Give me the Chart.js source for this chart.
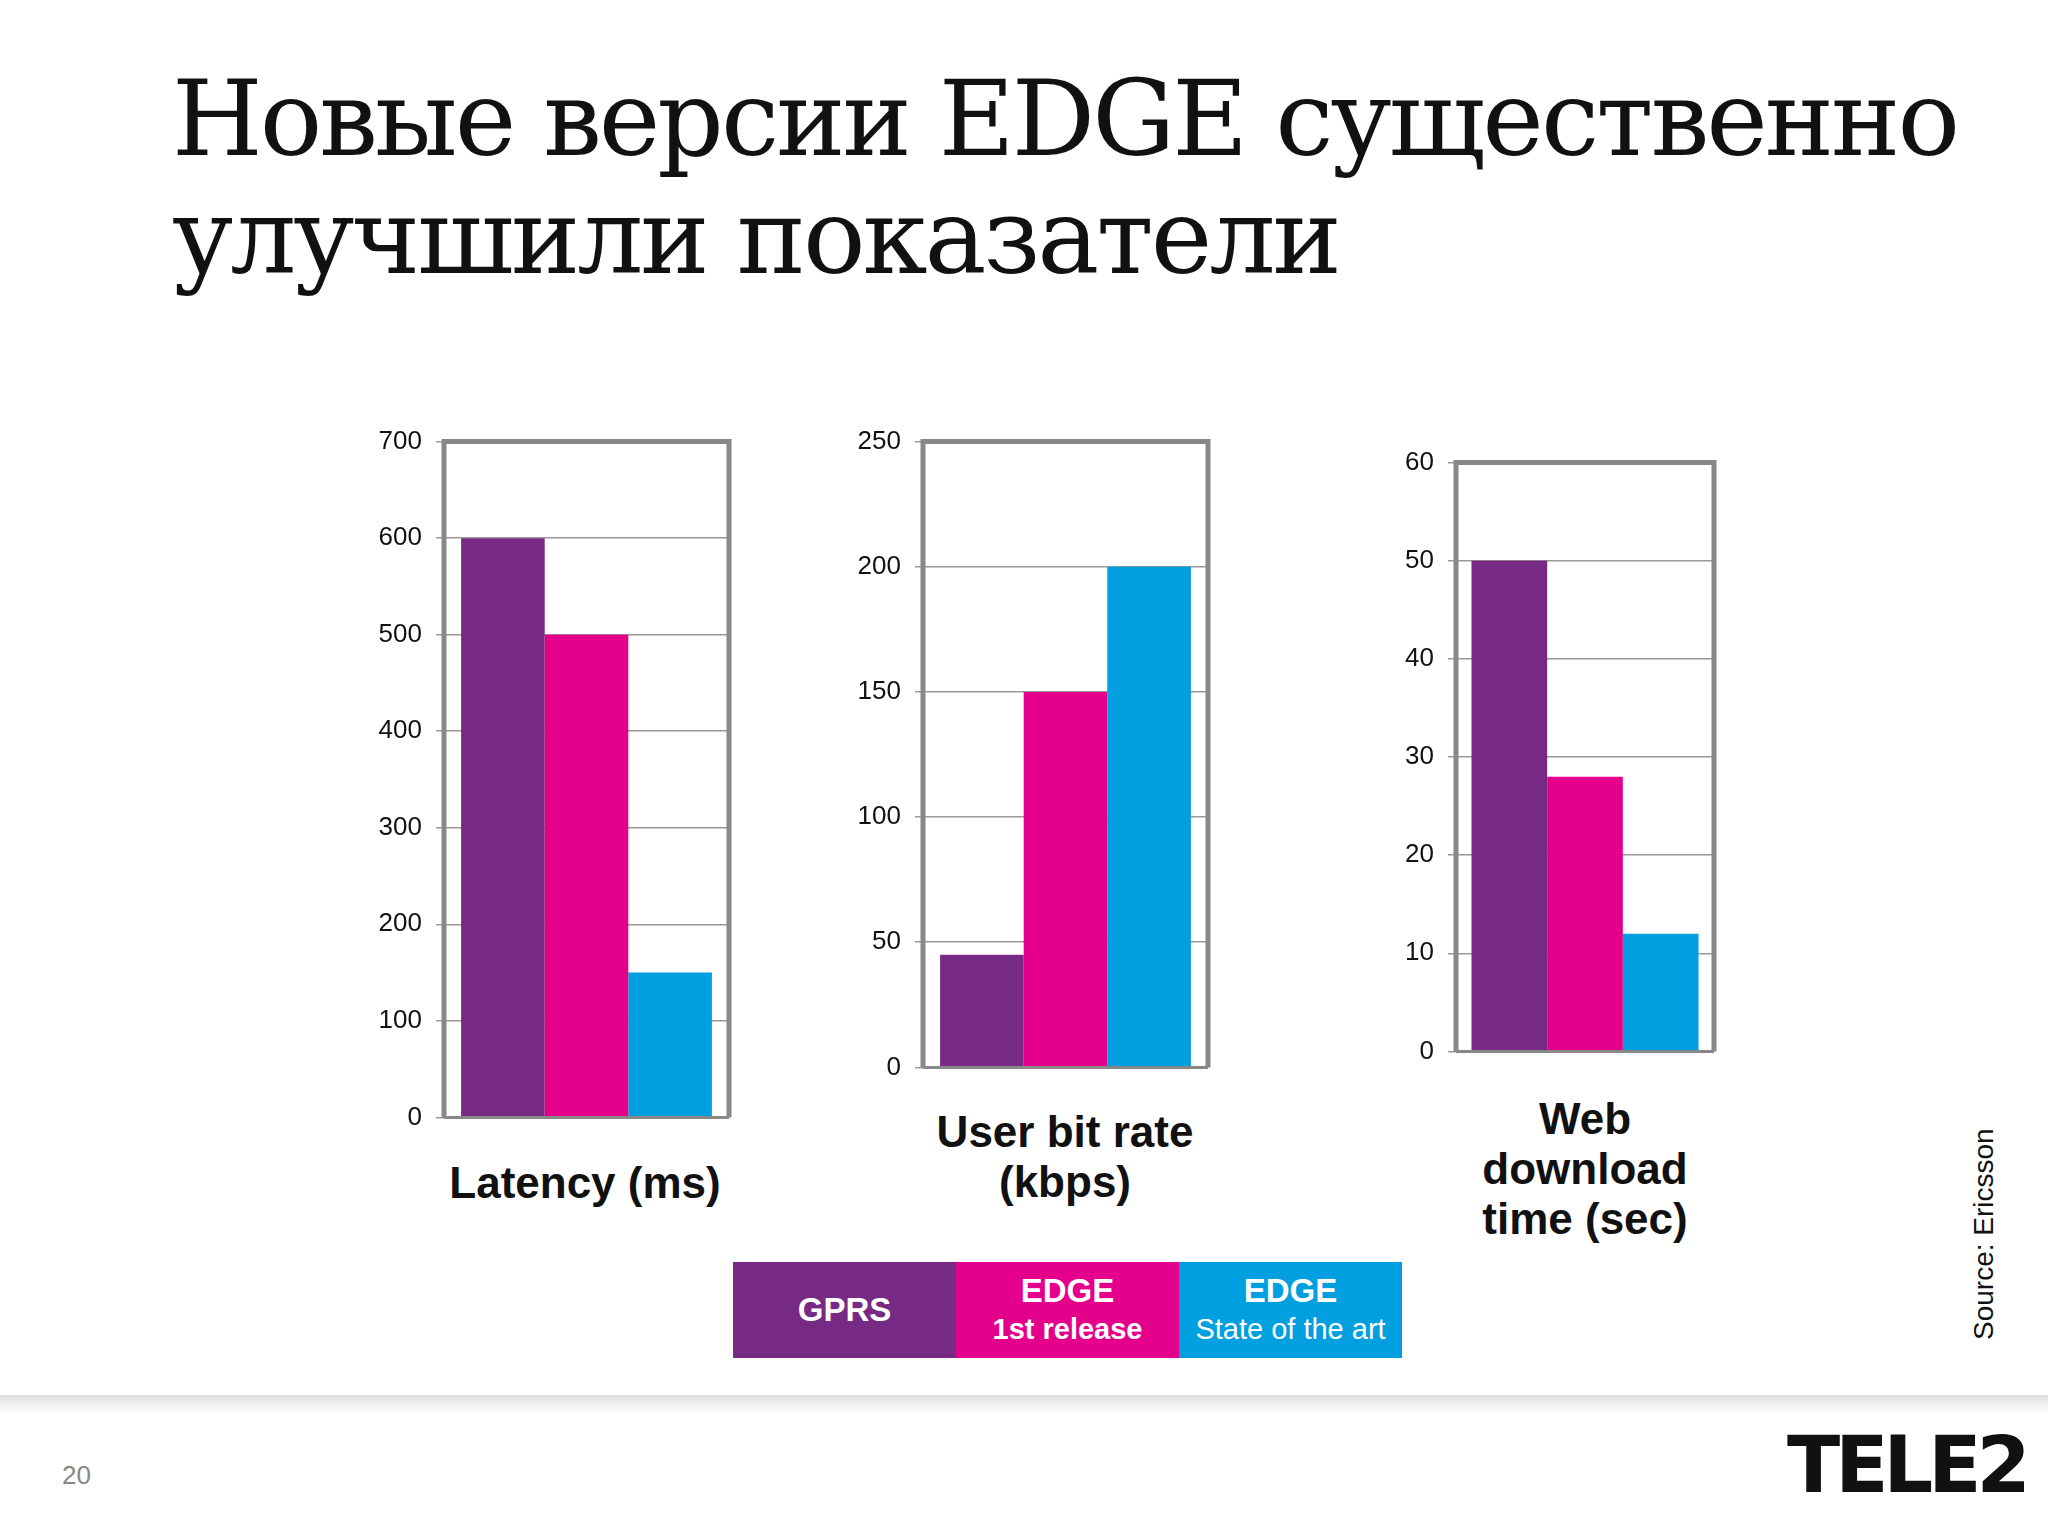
<!DOCTYPE html>
<html><head><meta charset="utf-8">
<script src="https://cdn.jsdelivr.net/npm/chart.js@4"></script>
<style>
body{margin:0;width:2048px;height:1536px;background:#fff;position:relative;overflow:hidden;font-family:"Liberation Sans",Arial,sans-serif}
.t{position:absolute;left:172px;top:60px;font-family:"DejaVu Serif",serif;font-size:104px;line-height:118px;color:#111;letter-spacing:-3px;white-space:nowrap}
.box{position:absolute}
.lab{position:absolute;text-align:center;font-weight:bold;font-size:44px;line-height:50px;color:#111}
.leg{position:absolute;top:1262px;height:96px;width:223px;color:#fff;font-weight:bold;text-align:center;display:flex;flex-direction:column;justify-content:center;font-size:33px;line-height:38px}
</style></head><body>
<div class="t">Новые версии EDGE существенно<br>улучшили показатели</div>
<div class="box" style="left:360px;top:412px;width:375px;height:735px"><canvas id="c1"></canvas></div>
<div class="box" style="left:839px;top:412px;width:375px;height:685px"><canvas id="c2"></canvas></div>
<div class="box" style="left:1372px;top:433px;width:348px;height:648px"><canvas id="c3"></canvas></div>
<div class="lab" style="left:420px;top:1158px;width:330px">Latency (ms)</div>
<div class="lab" style="left:900px;top:1107px;width:330px">User bit rate<br>(kbps)</div>
<div class="lab" style="left:1420px;top:1094px;width:330px">Web<br>download<br>time (sec)</div>
<div class="leg" style="left:733px;background:#772A83">GPRS</div>
<div class="leg" style="left:956px;background:#E5008C">EDGE<br><span style="font-size:29px">1st release</span></div>
<div class="leg" style="left:1179px;background:#009FDF">EDGE<br><span style="font-size:29px;font-weight:normal">State of the art</span></div>
<div style="position:absolute;left:1968px;top:1340px;transform:rotate(-90deg);transform-origin:0 0;font-size:28px;color:#111;white-space:nowrap">Source: Ericsson</div>
<div style="position:absolute;left:0;top:1395px;width:2048px;height:18px;background:linear-gradient(#ddd,#fff)"></div>
<div style="position:absolute;left:62px;top:1460px;font-size:26px;color:#888">20</div>
<div style="position:absolute;left:1787px;top:1420px;font-size:78px;font-weight:900;color:#111;letter-spacing:-5px;font-family:'DejaVu Sans',sans-serif">TELE2</div>
<script>
const seriesNames=["GPRS","EDGE 1st release","EDGE State of the art"];
const colors=["#772A83","#E5008C","#009FDF"];
const latency=[600,500,150];
const bitRate=[45,150,200];
const webTime=[50,28,12];
const frame={id:'frame',afterDraw(c){const a=c.chartArea,x=c.ctx;x.save();x.strokeStyle='#888';x.lineWidth=5;x.beginPath();x.moveTo(a.left,a.bottom);x.lineTo(a.left,a.top);x.lineTo(a.right,a.top);x.lineTo(a.right,a.bottom);x.stroke();x.lineWidth=3;x.beginPath();x.moveTo(a.left,a.bottom);x.lineTo(a.right,a.bottom);x.stroke();x.restore();}};
function mk(id,vals,max,step){
 new Chart(document.getElementById(id),{type:'bar',
  data:{labels:[''],datasets:vals.map((v,i)=>({label:seriesNames[i],data:[v],backgroundColor:colors[i]}))},
  options:{responsive:true,maintainAspectRatio:false,animation:false,
   layout:{padding:{top:4,right:6,bottom:0}},
   datasets:{bar:{barPercentage:1,categoryPercentage:0.88}},
   plugins:{legend:{display:false},tooltip:{enabled:false}},
   scales:{x:{grid:{display:false},ticks:{display:false},border:{display:false}},
    y:{min:0,max:max,afterFit:s=>{s.width=84},ticks:{stepSize:step,color:'#111',font:{size:26,family:'Liberation Sans'},padding:14},
     grid:{color:'#999',lineWidth:1.5,tickLength:8},border:{display:false}}}},
  plugins:[frame]});
}
mk('c1',latency,700,100);
mk('c2',bitRate,250,50);
mk('c3',webTime,60,10);
</script>
</body></html>
